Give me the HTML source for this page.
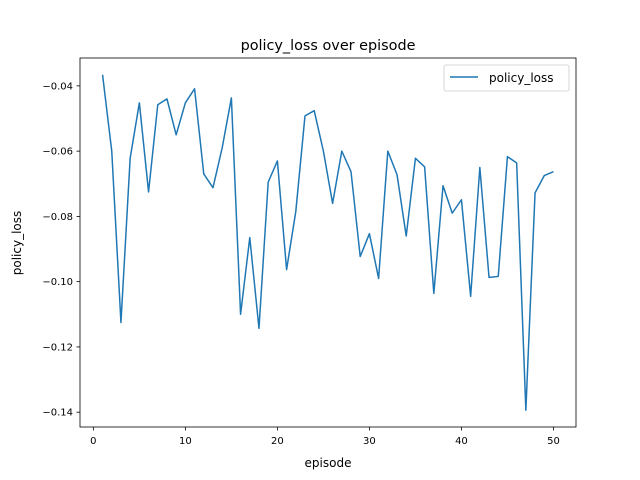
<!DOCTYPE html>
<html><head><meta charset="utf-8"><style>
body{margin:0;background:#fff}
svg{display:block;font-family:"DejaVu Sans","Liberation Sans",sans-serif}
</style></head><body>
<svg id="chart" width="640" height="480" viewBox="0 0 640 480">
<rect width="640" height="480" fill="#fff"/>
<text x="328" y="50" font-size="14.4" text-anchor="middle">policy_loss over episode</text>
<g id="xt"></g>
<g id="yt"></g>
<path id="line" fill="none" stroke="#1f77b4" stroke-width="1.5" stroke-linejoin="round"/>
<rect x="80" y="58" width="496" height="369" fill="none" stroke="#000" stroke-width="0.8"/>
<text x="328" y="467" font-size="12" text-anchor="middle">episode</text>
<text x="0" y="0" font-size="12" text-anchor="middle" transform="translate(21,243) rotate(-90)">policy_loss</text>
<g>
<rect x="444" y="65" width="125" height="26" rx="2" fill="#fff" stroke="#ccc" stroke-width="0.8"/>
<line x1="450" y1="77" x2="478" y2="77" stroke="#1f77b4" stroke-width="1.5"/>
<text x="489" y="82" font-size="12">policy_loss</text>
</g>
</svg>
<script>
const episodes = Array.from({length:50},(_,i)=>i+1);
const policyLoss = [-0.0366,-0.060,-0.1125,-0.0622,-0.0452,-0.0725,-0.0458,-0.044,-0.055,-0.0452,
-0.0409,-0.067,-0.0712,-0.059,-0.0437,-0.110,-0.0865,-0.1143,-0.0695,-0.063,
-0.0963,-0.0785,-0.0492,-0.0476,-0.060,-0.076,-0.060,-0.0663,-0.0923,-0.0853,
-0.099,-0.060,-0.0672,-0.086,-0.0622,-0.0648,-0.1036,-0.0706,-0.079,-0.0749,
-0.1045,-0.065,-0.0987,-0.0984,-0.0617,-0.0636,-0.1394,-0.0728,-0.0675,-0.0663];
const xTicks = [0,10,20,30,40,50];
const yTicks = [-0.04,-0.06,-0.08,-0.10,-0.12,-0.14];
const yTickLabels = ["−0.04","−0.06","−0.08","−0.10","−0.12","−0.14"];

const L=80,R=576,T=58,B=427;
const xmin=Math.min(...episodes),xmax=Math.max(...episodes),xpad=(xmax-xmin)*0.05;
const ymin=Math.min(...policyLoss),ymax=Math.max(...policyLoss),ypad=(ymax-ymin)*0.05;
const sx=v=>L+(v-(xmin-xpad))/((xmax+xpad)-(xmin-xpad))*(R-L);
const sy=v=>B-(v-(ymin-ypad))/((ymax+ypad)-(ymin-ypad))*(B-T);
const NS="http://www.w3.org/2000/svg";
function mk(tag,attrs,parent){const e=document.createElementNS(NS,tag);for(const k in attrs)e.setAttribute(k,attrs[k]);parent.appendChild(e);return e;}
const xt=document.getElementById('xt'),yt=document.getElementById('yt');
xTicks.forEach(t=>{
 const x=sx(t);
 const l=mk('line',{x1:x,x2:x,y1:B,y2:B+3.5,stroke:'#000','stroke-width':0.8},xt);
 
 
 const tx=mk('text',{x:x,y:B+17,'font-size':10,'text-anchor':'middle'},xt);
 tx.textContent=t;
 
 
});
yTicks.forEach((t,i)=>{
 const y=sy(t);
 const l=mk('line',{x1:L-3.5,x2:L,y1:y,y2:y,stroke:'#000','stroke-width':0.8},yt);
 
 
 const tx=mk('text',{x:L-7,y:y+3.5,'font-size':10,'text-anchor':'end'},yt);
 tx.textContent=yTickLabels[i];
 
 
});
document.getElementById('line').setAttribute('d',episodes.map((e,i)=>(i?'L':'M')+sx(e).toFixed(2)+','+sy(policyLoss[i]).toFixed(2)).join(''));
</script>
</body></html>
